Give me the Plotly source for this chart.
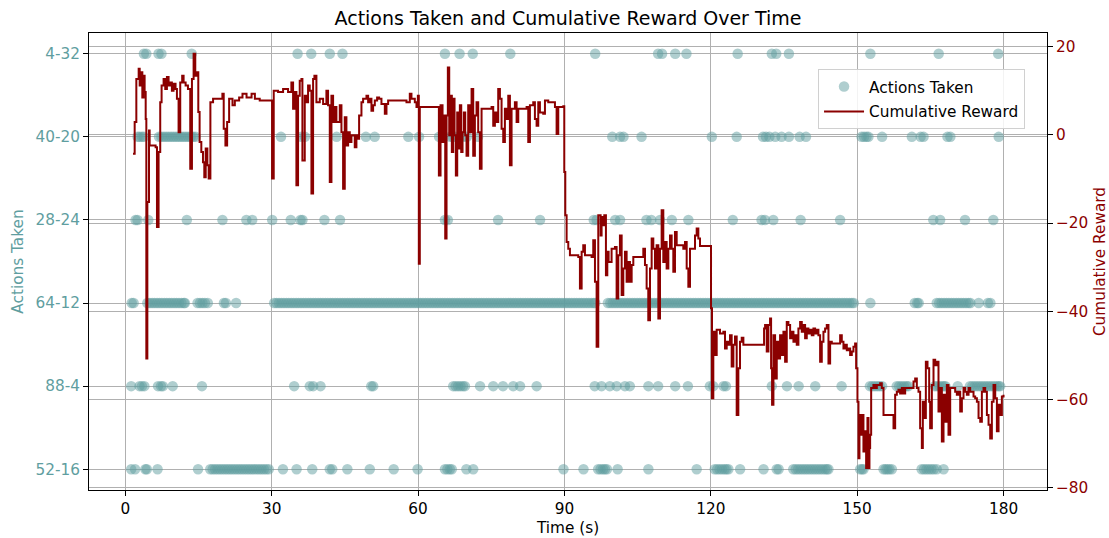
import plotly.graph_objects as go

# ---------------- data ----------------
categories = ["52-16", "88-4", "64-12", "28-24", "40-20", "4-32"]  # bottom -> top
x_ticks = [0, 30, 60, 90, 120, 150, 180]
reward_ticks = [-80, -60, -40, -20, 0, 20]

t_4_32 = [3.8, 4.3, 6.8, 7.4, 13.6, 35.3, 38.1, 41.9, 44.5, 65.5, 68.5, 71.2, 78.9,
          96.3, 109.2, 110.0, 112.7, 115.0, 125.5, 132.5, 133.4, 136.0, 152.7, 166.7, 178.9]

t_40_20 = [2.5, 2.9, 3.4, 3.8, 6.9, 7.4, 7.9, 8.4, 8.9, 9.4, 9.9, 10.4, 10.9, 11.4, 11.9,
           12.4, 12.9, 13.4, 13.9, 14.4, 31.9, 36.1, 36.8, 43.3, 49.3, 51.1, 58.0, 60.2,
           64.3, 66.6, 67.1, 67.6, 69.2, 70.0, 72.3, 99.8, 101.4, 102.1, 105.8, 120.2,
           125.3, 130.7, 131.3, 132.0, 133.2, 134.5, 136.0, 138.2, 139.5, 150.9, 151.4,
           151.9, 152.3, 155.1, 161.2, 163.0, 163.6, 168.5, 169.1, 179.0]

t_28_24 = [2.1, 2.5, 4.7, 12.6, 19.9, 24.8, 26.0, 30.1, 33.9, 35.9, 36.3, 40.8, 44.0,
           65.5, 66.1, 76.4, 85.0, 96.0, 96.6, 100.4, 101.4, 106.8, 107.8, 109.6, 112.0,
           115.4, 124.5, 130.4, 131.1, 132.8, 138.4, 146.5, 165.6, 167.0, 172.1, 177.9]

t_64_12 = [1.3, 1.7, 4.5, 5.0, 5.5, 6.0, 6.5, 7.0, 7.5, 8.0, 8.5, 9.0, 9.5, 10.0, 10.5,
           11.0, 11.5, 12.0, 12.2, 14.8, 15.3, 15.8, 16.3, 16.9, 20.2, 20.6, 22.7,
           30.5, 31.0, 31.5, 32.0, 32.5, 33.0, 33.5, 34.0, 34.5, 35.0, 35.5, 36.0, 36.5,
           37.0, 37.5, 38.0, 38.5, 39.0, 39.5, 40.0, 40.5, 41.0, 41.5, 42.0, 42.5, 43.0,
           43.5, 44.0, 44.5, 45.0, 45.5, 46.0, 46.5, 47.0, 47.5, 48.0, 48.5, 49.0, 49.5,
           50.0, 50.5, 51.0, 51.5, 52.0, 52.5, 53.0, 53.5, 54.0, 54.5, 55.0, 55.5, 56.0,
           56.5, 57.0, 57.5, 58.0, 58.5, 59.0, 59.5, 60.0, 60.5, 61.0, 61.5, 62.0, 62.5,
           63.0, 63.5, 64.0, 64.5, 65.0, 65.5, 66.0, 66.5, 67.0, 67.5, 68.0, 68.5, 69.0,
           69.5, 70.0, 70.5, 71.0, 71.5, 72.0, 72.5, 73.0, 73.5, 74.0, 74.5, 75.0, 75.5,
           76.0, 76.5, 77.0, 77.5, 78.0, 78.5, 79.0, 79.5, 80.0, 80.5, 81.0, 81.5, 82.0,
           82.5, 83.0, 83.5, 84.0, 84.5, 85.0, 85.5, 86.0, 86.5, 87.0, 87.5, 88.0, 88.5,
           89.0, 89.5, 90.0, 90.5, 91.0, 91.5, 92.0, 92.5, 93.0, 93.5, 94.0, 94.5, 95.0,
           95.5, 96.0, 96.3,
           98.9, 99.4, 99.9, 100.4, 100.9, 101.4, 101.9, 102.4, 102.9, 103.4, 103.9,
           104.4, 104.9, 105.4, 105.9, 106.4, 106.9, 107.4, 107.9, 108.4, 108.9, 109.4,
           109.9, 110.4, 110.9, 111.4, 111.9, 112.4, 112.9, 113.4, 113.9, 114.4, 114.9,
           115.4, 115.9, 116.4, 116.9, 117.4, 117.9, 118.4, 118.9, 119.4, 119.9, 120.4,
           120.9, 121.4, 121.9, 122.4, 122.9, 123.4, 123.9, 124.4, 124.9, 125.4, 125.9,
           126.4, 126.9, 127.4, 127.9, 128.4, 128.9, 129.4, 129.9, 130.4, 130.9, 131.4,
           131.9, 132.4, 132.9, 133.4, 133.9, 134.4, 134.9, 135.4, 135.9, 136.4, 136.9,
           137.4, 137.9, 138.4, 138.9, 139.4, 139.9, 140.4, 140.9, 141.4, 141.9, 142.4,
           142.9, 143.4, 143.9, 144.4, 144.9, 145.4, 145.9, 146.4, 146.9, 147.4, 147.9,
           148.4, 148.9, 149.3, 152.7,
           161.8, 162.3, 162.6, 166.3, 166.8, 167.3, 167.8, 168.3, 168.8, 169.3, 169.8,
           170.3, 170.8, 171.3, 171.8, 172.3, 172.8, 173.2, 174.9, 176.8, 177.3]

t_88_4 = [1.2, 2.9, 3.4, 3.9, 6.7, 7.3, 7.7, 9.7, 15.7, 34.6, 37.8, 38.5, 40.0, 50.4, 50.8,
          67.2, 67.7, 68.2, 68.7, 69.2, 69.6, 72.7, 75.4, 77.4, 79.5, 80.9, 84.3,
          96.2, 97.6, 99.3, 100.7, 102.4, 103.4, 107.2, 109.2, 112.7, 115.3, 119.8, 120.5,
          122.6, 123.1, 132.5, 135.6, 138.0, 141.4, 146.8,
          152.6, 153.1, 153.6, 154.1, 154.6, 155.1, 158.1, 158.6, 159.1, 159.6, 160.1,
          160.5, 165.9, 166.4, 166.9, 167.4, 167.8, 168.1, 170.6, 173.1, 173.6, 174.1,
          174.6, 175.1, 175.6, 176.1, 176.6, 177.1, 177.6, 178.1, 178.6, 179.0, 179.3]

t_52_16 = [1.2, 2.0, 4.1, 4.4, 6.6, 14.9,
           17.4, 17.9, 18.4, 18.9, 19.4, 19.9, 20.4, 20.9, 21.4, 21.9, 22.4, 22.9, 23.4,
           23.9, 24.4, 24.9, 25.4, 25.9, 26.4, 26.9, 27.4, 27.9, 28.4, 28.9, 29.4,
           32.3, 35.1, 38.3, 41.9, 42.4, 45.5, 50.1, 55.0, 59.9,
           65.5, 66.0, 66.5, 66.9, 69.9, 71.3, 89.8, 93.9,
           96.9, 97.4, 97.9, 98.3, 98.7, 100.9, 107.2, 117.1,
           120.8, 121.3, 121.8, 122.3, 122.8, 123.2, 123.6, 126.0, 130.8, 133.5, 133.9,
           136.9, 137.4, 137.9, 138.4, 138.9, 139.4, 139.9, 140.4, 140.9, 141.4, 141.9,
           142.4, 142.9, 143.4, 143.8, 144.1, 150.6, 151.0, 151.3,
           155.4, 155.8, 156.2, 156.6, 157.1,
           163.2, 163.7, 164.2, 164.7, 165.2, 165.7, 166.3, 167.7]

reward_t = [1.57, 1.91, 2.25, 2.73, 2.94, 3.28, 3.48, 3.75, 3.95, 4.17, 4.30, 4.51, 4.85,
            4.98, 6.20, 6.48, 6.81, 7.15, 7.43, 7.84, 8.18, 8.52, 8.86, 9.20, 9.54, 9.88,
            10.29, 10.57, 10.91, 11.25, 11.65, 11.94, 12.35, 12.83, 13.30, 13.65, 13.99,
            14.33, 14.68, 14.95, 15.22, 15.57, 15.91, 16.18, 16.47, 16.81, 17.08, 17.43,
            17.98, 19.69, 19.89, 20.16, 20.51, 20.86, 21.27, 21.96, 22.44, 23.32, 24.01,
            24.84, 25.87, 26.55, 27.54, 29.93, 30.07, 30.41, 31.30, 32.33, 33.35, 34.03,
            34.38, 34.72, 35.06, 35.40, 35.74, 36.09, 36.29, 36.77, 37.11, 37.45, 37.79,
            38.14, 38.48, 38.75, 39.16, 39.85, 40.53, 41.21, 41.55, 41.90, 42.24, 42.58,
            42.92, 43.26, 43.95, 44.29, 44.63, 44.97, 45.31, 45.66, 46.00, 46.34, 47.02,
            47.36, 47.71, 47.91, 48.39, 48.73, 49.42, 49.76, 50.10, 50.44, 50.78, 51.13,
            51.60, 52.01, 52.49, 53.18, 53.52, 53.86, 57.62, 58.30, 58.64, 59.33, 59.67,
            59.95, 60.15, 60.35, 60.70, 64.12, 64.26, 64.60, 65.01, 65.28, 65.56, 65.83,
            66.10, 66.38, 66.65, 66.92, 67.20, 67.47, 67.74, 68.02, 68.29, 68.56, 68.84,
            69.11, 69.38, 69.66, 69.93, 70.27, 70.61, 70.96, 71.30, 71.64, 71.98, 72.32,
            72.67, 73.01, 75.06, 75.40, 75.74, 76.08, 76.42, 76.77, 77.11, 77.45, 77.79,
            78.13, 78.48, 78.82, 79.16, 79.84, 80.19, 80.53, 82.24, 82.58, 82.92, 83.60,
            83.94, 84.29, 84.63, 84.97, 85.65, 86.00, 86.68, 88.05, 88.39, 88.73, 89.76,
            89.96, 90.17, 90.44, 90.78, 91.12, 92.83, 93.17, 93.52, 93.85, 94.20, 95.56,
            95.90, 96.25, 96.59, 96.93, 97.41, 97.61, 97.96, 98.16, 98.50, 98.78, 99.05,
            99.66, 100.35, 100.69, 101.03, 101.37, 101.72, 102.06, 102.40, 102.74, 103.08,
            103.42, 103.77, 104.11, 105.82, 106.16, 106.50, 106.84, 107.18, 107.53, 107.87,
            108.21, 108.55, 108.89, 109.24, 109.58, 109.92, 110.26, 110.60, 110.94, 111.29,
            111.63, 111.97, 112.31, 112.65, 113.00, 114.36, 114.70, 115.05, 115.39, 115.73,
            116.41, 116.76, 117.10, 117.44, 117.78, 119.83, 120.04, 120.24, 120.51, 120.86,
            121.20, 121.88, 122.57, 122.91, 123.25, 123.59, 123.93, 124.27, 124.62, 124.96,
            125.30, 125.64, 125.98, 126.33, 126.67, 130.78, 130.91, 131.12, 131.46, 131.80,
            132.14, 132.35, 132.55, 132.83, 133.17, 133.51, 133.85, 134.19, 134.54, 134.88,
            135.22, 135.56, 135.90, 136.25, 136.59, 136.93, 137.27, 137.61, 137.95, 138.30,
            138.64, 138.98, 139.32, 139.66, 140.00, 140.35, 140.69, 141.03, 141.37, 141.71,
            142.05, 142.40, 142.74, 143.08, 143.42, 143.76, 144.11, 144.45, 144.79, 146.16,
            146.50, 146.84, 147.18, 147.52, 147.87, 148.21, 148.55, 148.89, 149.23, 149.57,
            149.78, 150.05, 150.26, 150.46, 150.74, 151.01, 151.28, 151.56, 151.83, 152.10,
            152.31, 152.51, 152.65, 152.86, 153.33, 153.68, 154.02, 154.70, 155.04, 155.39,
            157.09, 157.44, 157.78, 158.12, 158.46, 158.80, 159.15, 159.49, 159.83, 161.19,
            161.54, 161.88, 162.22, 162.56, 162.90, 163.25, 163.45, 163.72, 164.07, 164.41,
            164.75, 164.95, 165.30, 165.64, 165.98, 166.32, 166.66, 167.01, 167.35, 167.69,
            168.03, 168.37, 168.71, 169.06, 170.08, 170.42, 170.77, 171.11, 171.45, 171.79,
            172.13, 172.47, 172.82, 173.16, 173.84, 174.18, 174.53, 174.87, 175.21, 175.55,
            175.89, 176.23, 176.58, 176.92, 177.26, 177.60, 177.94, 178.29, 178.63, 178.97,
            179.31, 179.65, 179.99]

reward_v = [-4.3, 2.9, 12.7, 15.0, 11.2, 14.2, 8.5, 13.4, 9.7, 3.6, -50.7, -15.2, 1.0,
            -2.4, -2.8, -20.9, -3.9, 7.4, 11.2, 12.7, 10.4, 13.1, 11.2, 11.9, 10.0, 11.6,
            10.4, 8.2, 0.6, 11.9, 13.4, 11.9, 11.2, 10.4, -7.7, 12.7, 18.4,
            13.4, 14.2, 5.2, -1.6, -3.9, -6.2, -9.6, -3.1, -6.9, -9.9, 7.4,
            8.2, 8.2, 9.3, 1.4, -2.4, 2.9, 8.2, 6.7, 7.8, 8.5, 9.3,
            8.5, 9.3, 8.2, 7.8, 7.8, -9.9, 10.0, 9.7, 10.4, 9.7, 11.9,
            5.9, 9.7, -11.4, 8.9, 12.3, 12.7, -5.8, 8.9, 7.4, 11.2, 10.0,
            -13.3, 12.7, 13.4, 7.4, 8.2, 7.0, 10.0, 6.7, -10.7, 8.9, 2.9,
            6.3, 2.9, 6.7, 0.6, -12.2, 4.0, -2.4, 0.6, -1.6, -0.1, -2.8,
            -0.1, -0.9, 4.4, 7.4, 8.2, 8.9, 7.4, 8.2, 5.5, 6.7, 7.8,
            8.5, 8.2, 7.0, 4.8, 7.0, 7.8, 7.4, 9.3, 8.2, 7.4, 6.3,
            8.9, -29.2, 6.3, 6.3, 6.3, -9.2, 6.7, -1.6, 4.4, -23.5, 4.4,
            15.3, -0.1, 8.9, -3.9, 8.2, -0.1, -9.2, 5.1, -3.1, 6.7, -3.9,
            0.6, 5.1, -0.1, -4.7, 6.7, 0.6, 10.4, -4.7, 4.4, 7.4, 0.6,
            -7.7, 5.9, 6.3, 2.1, 5.1, 2.9, 10.4, 8.2, 1.4, -1.6, 5.9,
            3.6, 8.9, -6.9, 5.9, 7.4, 2.9, 5.9, 6.3, -1.6, 6.7, 7.4,
            3.6, 2.1, 7.4, 5.1, 4.8, 7.8, 7.4, 6.3, 0.2, 6.3, 6.5,
            -8.4, -18.2, -24.3, -25.8, -27.3, -27.7, -34.8, -26.5, -25.0, -27.3, -27.7,
            -23.9, -33.3, -48.0, -18.2, -22.8, -18.6, -20.5, -18.2, -31.8, -26.5, -28.8,
            -25.8, -25.4, -37.1, -27.3, -22.8, -36.3, -30.3, -26.5, -33.3, -28.8,
            -33.3, -29.5, -27.7, -27.7, -25.8, -29.5, -34.8, -42.0, -30.3, -23.5,
            -25.8, -30.3, -25.0, -41.6, -25.8, -17.1, -28.8, -24.3, -30.3, -25.8,
            -22.8, -25.8, -31.0, -22.0, -25.0, -25.8, -24.3, -30.3, -34.4, -25.8,
            -25.8, -22.8, -21.2, -23.5, -25.2, -25.2, -39.3, -59.7, -44.6, -49.9,
            -44.2, -45.0, -44.6, -48.4, -46.9, -47.6, -45.4, -52.5, -47.6, -45.7,
            -63.5, -52.9, -46.9, -46.0, -47.6, -47.6, -43.9, -43.1, -49.1, -43.1,
            -41.6, -52.9, -61.2, -45.4, -55.2, -46.9, -50.7, -45.4, -49.9, -44.6,
            -51.4, -42.4, -43.1, -46.1, -44.6, -46.9, -45.4, -47.6, -43.9, -42.4,
            -44.6, -43.1, -46.1, -43.9, -45.0, -44.2, -45.4, -43.9, -45.0, -44.2,
            -45.4, -51.4, -46.9, -44.6, -43.9, -43.1, -51.8, -46.9, -47.3, -47.3,
            -45.4, -46.9, -48.4, -47.6, -48.8, -48.4, -49.9, -49.1, -48.0, -47.3,
            -52.9, -60.5, -73.3, -63.5, -68.0, -63.5, -71.8, -67.2, -75.5, -64.2,
            -75.5, -71.0, -68.0, -57.4, -56.7, -57.4, -56.7, -56.3, -57.4, -63.5,
            -63.5, -66.5, -58.9, -58.2, -57.8, -58.6, -57.4, -58.6, -57.4, -57.4,
            -55.9, -55.2, -57.4, -58.2, -66.5, -71.0, -60.5, -64.2, -51.4, -52.9,
            -60.5, -66.5, -56.7, -51.0, -52.2, -51.4, -62.7, -57.4, -69.5, -58.9,
            -65.0, -56.7, -68.0, -57.4, -58.2, -58.9, -58.2, -62.7, -59.7, -57.4,
            -58.2, -58.9, -57.4, -58.2, -59.3, -59.7, -60.5, -64.2, -65.0, -58.2,
            -57.4, -58.2, -63.5, -65.7, -68.8, -60.5, -56.7, -59.7, -67.2, -61.2,
            -63.5, -59.3, -58.9]

# ---------------- build traces ----------------
rows = {"4-32": t_4_32, "40-20": t_40_20, "28-24": t_28_24,
        "64-12": t_64_12, "88-4": t_88_4, "52-16": t_52_16}
act_x, act_y = [], []
for cat in categories:
    act_x += rows[cat]
    act_y += [cat] * len(rows[cat])

TEAL = "#5F9EA0"
RED = "#8B0000"
FONT = "DejaVu Sans"
GRID = "#b0b0b0"
FS = 15.3

fig = go.Figure()
fig.add_trace(go.Scatter(
    x=act_x, y=act_y, mode="markers", name="Actions Taken", yaxis="y",
    legendgroup="a",
    marker=dict(color=TEAL, size=10.5, opacity=0.5, line=dict(width=0)),
))
fig.add_trace(go.Scatter(
    x=reward_t, y=reward_v, mode="lines", name="Cumulative Reward", yaxis="y2",
    legendgroup="b",
    line=dict(color=RED, width=2.0, shape="hv"),
))

fig.update_layout(
    width=1109, height=538,
    margin=dict(l=89, r=62, t=33, b=48, pad=0),
    paper_bgcolor="white", plot_bgcolor="white",
    font=dict(family=FONT, size=FS, color="black"),
    title=dict(text="Actions Taken and Cumulative Reward Over Time",
               x=0.5, xref="paper", xanchor="center",
               y=1 - 18 / 538, yref="container", yanchor="middle",
               font=dict(family=FONT, size=19, color="black")),
    xaxis=dict(range=[-7.45, 188.9], tickvals=x_ticks, showgrid=True,
               gridcolor=GRID, gridwidth=1, zeroline=False,
               showline=True, linecolor="black", linewidth=1, mirror=True,
               ticks="outside", ticklen=5, tickcolor="black",
               tickfont=dict(size=FS, color="black"),
               title=dict(text="Time (s)", font=dict(size=FS, color="black"), standoff=4),
               automargin=False),
    yaxis=dict(type="category", categoryorder="array", categoryarray=categories,
               range=[-0.25, 5.25], showgrid=True, gridcolor=GRID, gridwidth=1,
               zeroline=False, showline=True, linecolor="black", linewidth=1,
               ticks="outside", ticklen=5, tickcolor="black",
               tickfont=dict(size=FS, color=TEAL),
               title=dict(text="Actions Taken", font=dict(size=FS, color=TEAL), standoff=8),
               automargin=False),
    yaxis2=dict(overlaying="y", side="right", range=[-80.5, 23.1],
                tickvals=reward_ticks, showgrid=True, gridcolor=GRID, gridwidth=1,
                zeroline=False, showline=True, linecolor="black", linewidth=1,
                ticks="outside", ticklen=5, tickcolor="black",
                tickfont=dict(size=FS, color=RED),
                title=dict(text="Cumulative Reward", font=dict(size=FS, color=RED), standoff=8),
                automargin=False),
    legend=dict(x=0.761, y=0.921, xanchor="left", yanchor="top",
                bgcolor="rgba(255,255,255,0.85)", bordercolor="#d0d0d0", borderwidth=1,
                itemwidth=40, tracegroupgap=2,
                font=dict(size=FS, color="black")),
    showlegend=True,
)

fig.write_html("out.html")
